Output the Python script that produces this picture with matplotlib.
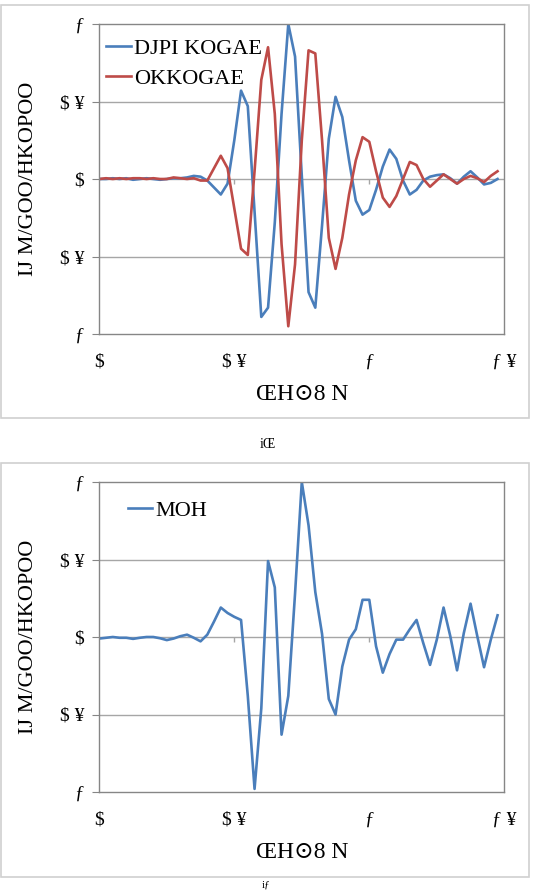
import matplotlib
matplotlib.use("Agg")
import matplotlib.pyplot as plt
from matplotlib.patches import Rectangle

# ---------------- data ----------------
n_samples = 60
dt_ns = 0.025
time_ns = [round(i * dt_ns, 3) for i in range(n_samples)]

top_blue = [0, 0, 0.005, 0, 0.005, -0.005, 0, 0.005, 0, -0.005,
            0, 0.005, 0.005, 0.01, 0.02, 0.015, -0.01, -0.055, -0.1, -0.03,
            0.25, 0.57, 0.47, -0.21, -0.89, -0.83, -0.28, 0.42, 1.0, 0.79,
            0.02, -0.73, -0.83, -0.3, 0.26, 0.53, 0.40, 0.12, -0.14, -0.23,
            -0.2, -0.07, 0.08, 0.19, 0.13, -0.01, -0.1, -0.07, -0.01, 0.015,
            0.025, 0.03, 0.005, -0.03, 0.015, 0.05, 0.01, -0.035, -0.025, 0.0]

top_red = [0, 0.005, 0, 0.005, 0, 0.005, 0.005, 0, 0.005, 0,
           0, 0.01, 0.005, 0, 0.005, -0.01, -0.01, 0.07, 0.15, 0.07,
           -0.19, -0.45, -0.49, 0.05, 0.64, 0.85, 0.42, -0.42, -0.95, -0.55,
           0.25, 0.83, 0.81, 0.25, -0.38, -0.58, -0.38, -0.1, 0.12, 0.27,
           0.24, 0.05, -0.12, -0.18, -0.11, 0.0, 0.11, 0.09, 0.0, -0.05,
           -0.01, 0.03, 0.0, -0.03, 0.0, 0.02, 0.005, -0.02, 0.02, 0.05]

bottom_blue = [-0.01, -0.005, 0, -0.005, -0.005, -0.012, -0.005, 0, 0, -0.008,
               -0.02, -0.01, 0.005, 0.015, -0.005, -0.028, 0.015, 0.1, 0.19, 0.155,
               0.13, 0.11, -0.38, -0.98, -0.46, 0.49, 0.32, -0.63, -0.38, 0.28,
               1.0, 0.72, 0.29, 0.02, -0.40, -0.5, -0.19, -0.017, 0.05, 0.24,
               0.24, -0.06, -0.23, -0.11, -0.017, -0.017, 0.05, 0.11, -0.04, -0.18,
               -0.017, 0.19, 0.005, -0.215, 0.025, 0.215, 0.005, -0.195, -0.017, 0.14]

x_ticks = [0, 0.5, 1.0, 1.5]
x_tick_labels = ["$", "$ ¥", "ƒ", "ƒ ¥"]
y_ticks = [-1, -0.5, 0, 0.5, 1]
y_tick_labels = ["ƒ", "$ ¥", "$", "$ ¥", "ƒ"]

legend_top = ["DJPI KOGAE", "OKKOGAE"]
legend_bottom = ["MOH"]
x_label = "ŒH⊙8 N"
y_label = "IJ M/GOO/HKOPOO"
captions = ["iŒ", "iƒ"]

# ---------------- style ----------------
BLUE = "#4A7EBB"
RED = "#BE4B48"
GRID = "#A6A6A6"
FRAME = "#868686"
FONT = ["Liberation Serif", "DejaVu Serif", "DejaVu Sans"]

W, H = 535, 892
fig = plt.figure(figsize=(W / 100, H / 100), dpi=100)


def fx(px):
    return px / W


def fy(py):
    return 1 - py / H


def panel(ax_top_px, ax_bot_px, box_top, box_bot, series, colors, labels,
          leg_anchor):
    # outer chart box
    fig.patches.append(Rectangle((fx(1.5), fy(box_bot)), fx(527), (box_bot - box_top) / H,
                                 transform=fig.transFigure, fill=False,
                                 edgecolor="#D0D0D0", lw=1.2))
    ax = fig.add_axes([fx(99.3), fy(ax_bot_px), fx(405), (ax_bot_px - ax_top_px) / H])
    for y, c, lab in zip(series, colors, labels):
        ax.plot(time_ns, y, color=c, lw=1.9, label=lab, solid_joinstyle="round")
    ax.set_xlim(x_ticks[0], x_ticks[-1])
    ax.set_ylim(y_ticks[0], y_ticks[-1])
    ax.set_yticks(y_ticks)
    ax.set_yticklabels(y_tick_labels, family=FONT, fontsize=14)
    ax.set_xticks(x_ticks)
    ax.set_xticklabels(x_tick_labels, family=FONT, fontsize=14)
    for yt in y_ticks[1:-1]:
        ax.axhline(yt, color=GRID, lw=1.0, zorder=0)
    # small tick marks on the zero axis
    ax.vlines(x_ticks[1:-1], -0.035, 0, color=GRID, lw=1.0, zorder=0)
    for s in ax.spines.values():
        s.set_color(FRAME)
        s.set_linewidth(1.0)
    ax.tick_params(axis="y", length=5, color=FRAME, pad=6, direction="out")
    ax.tick_params(axis="x", length=0, pad=14)
    ax.set_xlabel(x_label, family=FONT, fontsize=17)
    ax.xaxis.set_label_coords(0.5, -60 / 310)
    ax.xaxis.label.set_va("center")
    ax.set_ylabel(y_label, family=FONT, fontsize=16)
    ax.yaxis.set_label_coords(-0.1736, 0.5)
    ax.yaxis.label.set_va("center")
    ax.legend(loc="upper left", bbox_to_anchor=leg_anchor, frameon=False,
              prop={"family": FONT, "size": 16}, handlelength=1.1,
              handletextpad=0.15, labelspacing=0.45, borderpad=0,
              borderaxespad=0)
    return ax


panel(24, 334, 5, 418, [top_blue, top_red], [BLUE, RED], legend_top, (0.017, 0.955))
panel(482, 792, 463, 877, [bottom_blue], [BLUE], legend_bottom, (0.07, 0.942))

fig.text(fx(268), fy(445), captions[0], family=FONT, fontsize=10, ha="center", va="center")
fig.text(fx(266), fy(885), captions[1], family=FONT, fontsize=8, ha="center", va="center")

fig.savefig("out.png", dpi=100)
